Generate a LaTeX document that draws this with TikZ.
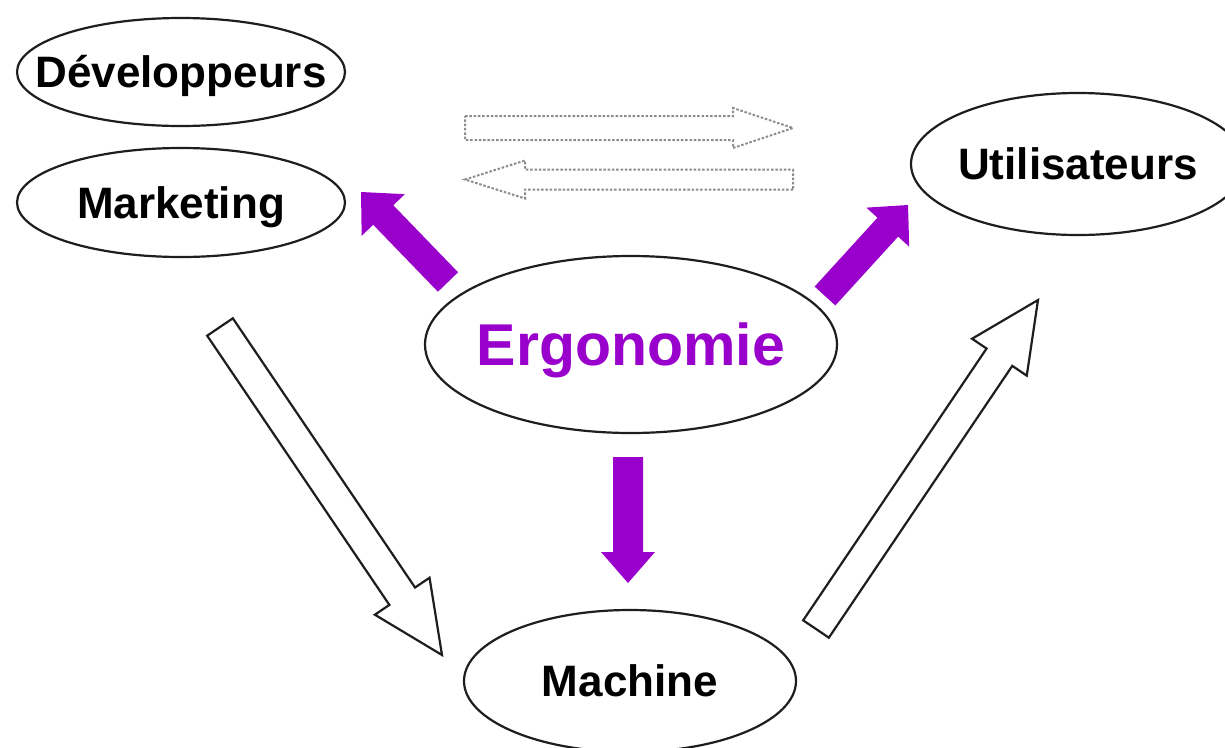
\documentclass[tikz,border=0pt]{standalone}
\usepackage{fontspec}
\setmainfont{Liberation Sans}
\usetikzlibrary{shapes.geometric,calc}
\definecolor{purp}{RGB}{153,0,204}
\definecolor{edge}{RGB}{30,30,30}
\definecolor{dotgray}{RGB}{140,140,140}
\newcommand\bkarrow[6]{% style, tail, tip, half shaft, half head, head length
  \coordinate (ba-h) at ($(#3)!#6!(#2)$);
  \draw[#1] ($(#2)!#4!90:(#3)$) -- ($(ba-h)!#4!90:(#3)$) -- ($(ba-h)!#5!90:(#3)$)
    -- (#3) -- ($(ba-h)!#5!-90:(#3)$) -- ($(ba-h)!#4!-90:(#3)$) -- ($(#2)!#4!-90:(#3)$) -- cycle;
}
\tikzset{
  bubble/.style={ellipse, draw=edge, line width=2.2pt, fill=white, inner sep=0pt},
  lbl/.style={inner sep=0pt, font=\fontsize{44}{50}\selectfont\bfseries, text height=31.5pt, text depth=0pt},
  biglbl/.style={inner sep=0pt, font=\fontsize{59}{64}\selectfont\bfseries, text=purp, text height=42.5pt, text depth=0pt},
  purparrow/.style={fill=purp, draw=none},
  hollowarrow/.style={fill=white, draw=edge, line width=2.2pt, line join=miter},
  dotarrow/.style={draw=dotgray, line width=2pt, dash pattern=on 2.5pt off 1.8pt, line join=miter}
}
\begin{document}
\begin{tikzpicture}[x=1pt,y=-1pt]
\fill[white] (0,0) rectangle (1225,747);
\clip (0,0) rectangle (1225,747);

% ellipses
\node[bubble, minimum width=328pt, minimum height=108pt] (dev) at (181,72) {};
\node[lbl] (devt) at (dev.center) {Développeurs};
\node[bubble, minimum width=328pt, minimum height=109pt] (mkt) at (181,202.5) {};
\node[lbl] (mktt) at (mkt.center) {Marketing};
\node[bubble, minimum width=334pt, minimum height=142pt] (usr) at (1078,164) {};
\node[lbl] (usrt) at (usr.center) {Utilisateurs};
\node[bubble, minimum width=412pt, minimum height=177pt] (erg) at (631,344.5) {};
\node[biglbl] (ergt) at (erg.center) {Ergonomie};
\node[bubble, minimum width=332pt, minimum height=142pt] (mac) at (630,681) {};
\node[lbl] (mact) at (mac.center) {Machine};

% arrow end points
\coordinate (pl1) at (448,282);  \coordinate (pl2) at (361,192);
\coordinate (pr1) at (825,296);  \coordinate (pr2) at (908,205);
\coordinate (pd1) at (628,457);  \coordinate (pd2) at (628,583);
\coordinate (hl1) at (220,327);  \coordinate (hl2) at (442,655);
\coordinate (hr1) at (816,629);  \coordinate (hr2) at (1038,300);
\coordinate (du1) at (465,128);  \coordinate (du2) at (793,128);
\coordinate (dl1) at (793,179.5);\coordinate (dl2) at (465,179.5);

% purple block arrows
\bkarrow{purparrow}{pl1}{pl2}{14pt}{30pt}{32pt}
\bkarrow{purparrow}{pr1}{pr2}{14pt}{29pt}{30pt}
\bkarrow{purparrow}{pd1}{pd2}{15pt}{27pt}{31pt}

% hollow arrows
\bkarrow{hollowarrow}{hl1}{hl2}{15.5pt}{33pt}{71pt}
\bkarrow{hollowarrow}{hr1}{hr2}{15.5pt}{33pt}{69pt}

% dotted arrows
\bkarrow{dotarrow}{du1}{du2}{12pt}{20pt}{60pt}
\bkarrow{dotarrow}{dl1}{dl2}{10pt}{19pt}{60pt}
\end{tikzpicture}
\end{document}
